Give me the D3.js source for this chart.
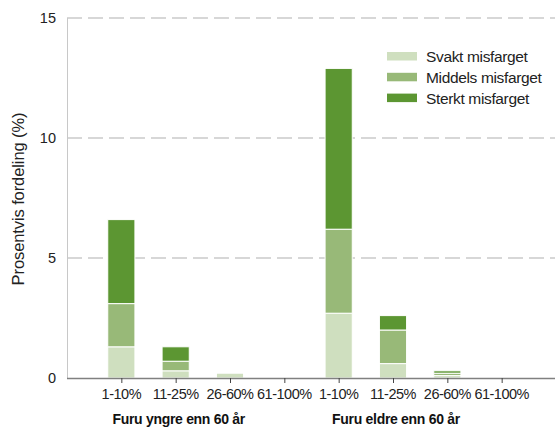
<!DOCTYPE html>
<html><head><meta charset="utf-8">
<script src="https://cdn.jsdelivr.net/npm/d3@7"></script>
<style>body{margin:0;background:#fff;} svg{display:block;font-family:"Liberation Sans",Arial,sans-serif;}</style>
</head><body>
<svg id="c" width="555" height="432"></svg>
<script>
const categories = ["1-10%","11-25%","26-60%","61-100%","1-10%","11-25%","26-60%","61-100%"];
const groups = ["Furu yngre enn 60 år","Furu eldre enn 60 år"];
const seriesNames = ["Svakt misfarget","Middels misfarget","Sterkt misfarget"];
const svakt   = [1.3, 0.3, 0.2, 0, 2.7, 0.6, 0.1, 0];
const middels = [1.8, 0.4, 0,   0, 3.5, 1.4, 0.1, 0];
const sterkt  = [3.5, 0.6, 0,   0, 6.7, 0.6, 0.1, 0];
const yTicks = [0, 5, 10, 15];
const colors = ["#cfdfbf","#98b978","#5c9632"];

(function(){
const svg = d3.select("#c");
const mL = 67, mR = 556, mT = 18, mB = 378;
const x = d3.scaleLinear().domain([0, categories.length + 1]).range([mL, mR]);
const y = d3.scaleLinear().domain([0, 15]).range([mB, mT]);
const bw = (x(1) - x(0)) / 2;

// grid
svg.append("g").selectAll("line").data(yTicks.filter(d => d > 0)).join("line")
  .attr("x1", mL).attr("x2", 555).attr("y1", d => y(d)).attr("y2", d => y(d))
  .attr("stroke", "#b0b0b0").attr("stroke-width", 1.2).attr("stroke-dasharray", "15,6");

// y axis line
svg.append("line").attr("x1", mL + 0.5).attr("x2", mL + 0.5).attr("y1", mT).attr("y2", mB)
  .attr("stroke", "#c8c8c8").attr("stroke-width", 1);

// y tick labels
svg.append("g").selectAll("text").data(yTicks).join("text")
  .attr("x", mL - 11).attr("y", d => y(d)).attr("dy", "0.35em")
  .attr("text-anchor", "end").attr("font-size", 14.5).attr("fill", "#222")
  .text(d => d);

// y title
svg.append("text").attr("transform", `translate(24,${(mT + mB) / 2 + 1}) rotate(-90)`)
  .attr("text-anchor", "middle").attr("font-size", 16.5).attr("fill", "#222")
  .attr("letter-spacing", "-0.1px")
  .text("Prosentvis fordeling (%)");

// stacked data
const rows = categories.map((c, i) => ({ i, v: [svakt[i], middels[i], sterkt[i]] }));
const stack = d3.stack().keys([0, 1, 2]).value((d, k) => d.v[k]);
const stacked = stack(rows);

const gBars = svg.append("g");
stacked.forEach((layer, k) => {
  gBars.append("g").selectAll("rect").data(layer.filter(d => d[1] - d[0] > 0)).join("rect")
    .attr("x", d => x(d.data.i + 1) - bw / 2)
    .attr("width", bw)
    .attr("y", d => y(d[1]))
    .attr("height", d => y(d[0]) - y(d[1]))
    .attr("fill", colors[k])
    .attr("stroke", "#fff").attr("stroke-width", 1);
});

// x baseline
svg.append("line").attr("x1", mL).attr("x2", 555).attr("y1", mB + 0.5).attr("y2", mB + 0.5)
  .attr("stroke", "#808080").attr("stroke-width", 1.5);

// x ticks
svg.append("g").selectAll("line").data(categories).join("line")
  .attr("x1", (d, i) => x(i + 1) + 0.5).attr("x2", (d, i) => x(i + 1) + 0.5)
  .attr("y1", mB).attr("y2", mB + 5)
  .attr("stroke", "#444").attr("stroke-width", 1);

svg.append("g").selectAll("text").data(categories).join("text")
  .attr("x", (d, i) => x(i + 1)).attr("y", mB + 21)
  .attr("text-anchor", "middle").attr("font-size", 14.5).attr("fill", "#222")
  .attr("letter-spacing", "-0.5px")
  .text(d => d);

// group labels
svg.append("g").selectAll("text").data(groups).join("text")
  .attr("x", (d, i) => x(i * 4 + 2) + 3).attr("y", 424)
  .attr("text-anchor", "middle").attr("font-size", 14).attr("font-weight", "bold").attr("fill", "#111")
  .attr("letter-spacing", "-0.3px")
  .text(d => d);

// legend
const lg = svg.append("g").attr("transform", "translate(387,52)");
seriesNames.forEach((s, k) => {
  const r = lg.append("g").attr("transform", `translate(0,${k * 20.8})`);
  r.append("rect").attr("width", 30).attr("height", 8.5).attr("fill", colors[k]);
  r.append("text").attr("x", 39).attr("y", 4.5).attr("dy", "0.35em")
    .attr("font-size", 15.5).attr("fill", "#222").attr("letter-spacing", "-0.35px").text(s);
});
})();
</script>
</body></html>
